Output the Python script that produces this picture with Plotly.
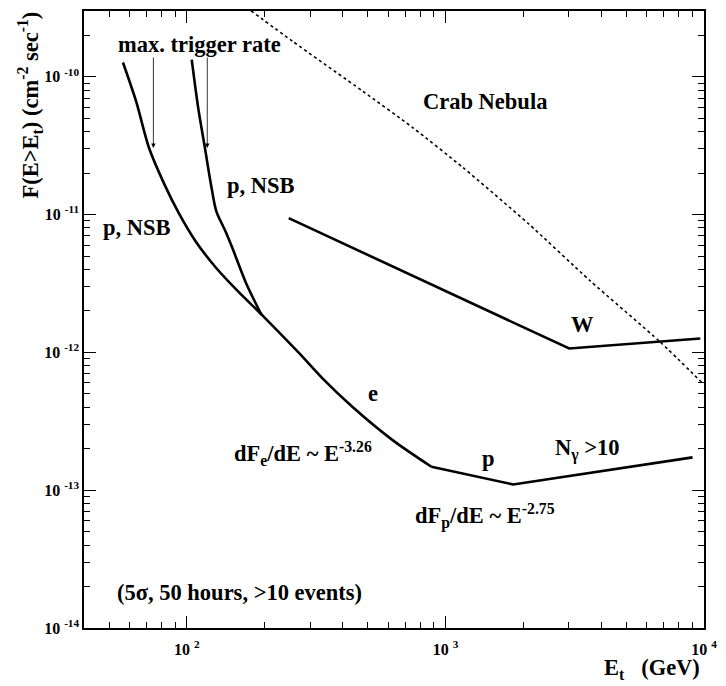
import numpy as np
import plotly.graph_objects as go

# ---------------- data ----------------
# lower sensitivity curve: p,NSB -> e -> p -> N_gamma>10
sens_E = [56.6, 63.6, 71.4, 81.7, 93.4, 107.7, 129.6, 159.5, 196.3, 272.4, 334.5, 438.5, 626.5, 882.6, 1828, 9032]
sens_F = [1.27e-10, 6.65e-11, 3.04e-11, 1.67e-11, 1.01e-11, 6.46e-12, 4.11e-12, 2.71e-12, 1.85e-12,
          9.82e-13, 6.48e-13, 4.0e-13, 2.3e-13, 1.48e-13, 1.10e-13, 1.73e-13]
# second p,NSB curve (joins the lower curve)
nsb2_E = [104.4, 110.6, 117.4, 124.5, 129.9, 140.7, 149.8, 169.8, 194.1]
nsb2_F = [1.33e-10, 5.94e-11, 3.05e-11, 1.57e-11, 1.06e-11, 7.62e-12, 5.74e-12, 3.15e-12, 1.88e-12]
# W curve
w_E = [247.6, 3010, 9676]
w_F = [9.42e-12, 1.067e-12, 1.26e-12]
# Crab Nebula integral flux (dotted)
crab_E = [177, 256.6, 479.3, 748.7, 1170, 2090, 3625, 6768, 9911]
crab_F = [3.01e-10, 1.806e-10, 7.85e-11, 4.26e-11, 2.19e-11, 8.61e-12, 3.31e-12, 1.19e-12, 5.93e-13]
# max. trigger rate arrows (energy, arrow-tip flux)
arrow_E = [74.2, 119.9]
arrow_F = [3.04e-11, 3.04e-11]

x_major = [1e2, 1e3, 1e4]
x_major_text = ["10 <sup>2</sup>", "10 <sup>3</sup>", "10 <sup>4</sup>"]
x_minor = [m * 10 ** d for d in (1, 2, 3) for m in range(2, 10) if 40 <= m * 10 ** d <= 1e4]
y_major = [1e-14, 1e-13, 1e-12, 1e-11, 1e-10]
y_major_text = ["10 <sup>-14</sup>", "10 <sup>-13</sup>", "10 <sup>-12</sup>", "10 <sup>-11</sup>", "10 <sup>-10</sup>"]
y_minor = [m * 10.0 ** d for d in (-14, -13, -12, -11, -10) for m in range(2, 10) if m * 10.0 ** d <= 3e-10]

FONT = "Liberation Serif, Times New Roman, serif"
W, H = 726, 686
L, R, T, B = 84, 22, 9, 58
PW, PH = W - L - R, H - T - B
KINK = 14  # index after which the lower curve is straight segments


def px(xp):
    return (xp - L) / PW


def py(yp):
    return (H - B - yp) / PH


fig = go.Figure()
line_s = dict(color="black", width=2.6, shape="spline", smoothing=0.8)
line_l = dict(color="black", width=2.6)
fig.add_trace(go.Scatter(x=sens_E[:KINK], y=sens_F[:KINK], mode="lines", line=line_s, hoverinfo="skip"))
fig.add_trace(go.Scatter(x=sens_E[KINK - 1:], y=sens_F[KINK - 1:], mode="lines", line=line_l, hoverinfo="skip"))
fig.add_trace(go.Scatter(x=nsb2_E, y=nsb2_F, mode="lines", line=line_s, hoverinfo="skip"))
fig.add_trace(go.Scatter(x=w_E, y=w_F, mode="lines", line=line_l, hoverinfo="skip"))
fig.add_trace(go.Scatter(x=crab_E, y=crab_F, mode="lines",
                         line=dict(color="black", width=1.6, dash="dot", shape="spline", smoothing=0.6),
                         hoverinfo="skip"))

ann = []


def txt(text, xp, yp, size=22.5, xanchor="center", yanchor="middle", angle=0):
    ann.append(dict(text=text, x=px(xp), y=py(yp), xref="paper", yref="paper", showarrow=False,
                    xanchor=xanchor, yanchor=yanchor, textangle=angle,
                    font=dict(family=FONT, size=size, color="black", weight="bold")))


txt("max. trigger rate", 199, 43)
txt("p, NSB", 137, 226)
txt("p, NSB", 261, 184)
txt("Crab Nebula", 485, 100)
txt("W", 582, 324)
txt("e", 373, 393)
txt("p", 488, 458)
txt("N<sub>γ</sub> &gt;10", 587, 449)
txt("dF<sub>e</sub>/dE ~ E<sup>-3.26</sup>", 303, 453)
txt("dF<sub>p</sub>/dE ~ E<sup>-2.75</sup>", 485, 516)
txt("(5σ, 50 hours, &gt;10 events)", 239, 592)
txt("E<sub>t</sub>   (GeV)", 702, 669, xanchor="right")
txt("F(E&gt;E<sub>t</sub>) (cm<sup>-2</sup> sec<sup>-1</sup>)", 30, 8, angle=-90, yanchor="top")

for e, f in zip(arrow_E, arrow_F):
    ann.append(dict(x=np.log10(e), y=np.log10(f), xref="x", yref="y", showarrow=True, text="",
                    ax=0, ay=-92, axref="pixel", ayref="pixel", arrowhead=2, arrowsize=1.1,
                    arrowwidth=0.8, arrowcolor="black"))

axis_common = dict(type="log", showgrid=False, zeroline=False, showline=True, linecolor="black",
                   linewidth=1.5, mirror="ticks", ticks="inside", ticklen=12, tickwidth=1,
                   tickcolor="black", tickmode="array", ticklabeloverflow="allow",
                   tickfont=dict(family=FONT, size=16, color="black", weight="bold"))

fig.update_layout(
    width=W, height=H,
    margin=dict(l=L, r=R, t=T, b=B, pad=0),
    paper_bgcolor="white", plot_bgcolor="white",
    showlegend=False,
    font=dict(family=FONT, color="black"),
    xaxis=dict(axis_common, range=[np.log10(40), 4], tickvals=x_major, ticktext=x_major_text,
               ticklabelstandoff=6,
               minor=dict(tickmode="array", tickvals=x_minor, ticks="inside", ticklen=6,
                          tickwidth=1, tickcolor="black", showgrid=False)),
    yaxis=dict(axis_common, range=[-14, np.log10(3e-10)], tickvals=y_major, ticktext=y_major_text,
               minor=dict(tickmode="array", tickvals=y_minor, ticks="inside", ticklen=6,
                          tickwidth=1, tickcolor="black", showgrid=False)),
    annotations=ann,
)

fig.write_html("out.html", config={"displayModeBar": False},
               post_script="document.body.style.margin='0';document.body.style.overflow='hidden';")
